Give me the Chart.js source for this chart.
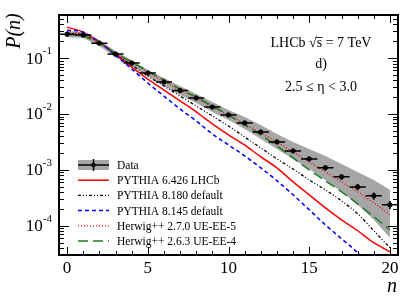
<!DOCTYPE html>
<html>
<head>
<meta charset="utf-8">
<script src="https://cdn.jsdelivr.net/npm/chart.js@4/dist/chart.umd.min.js"></script>
<style>
  html, body { margin: 0; padding: 0; background: #fff; }
  #wrap { width: 419px; height: 304px; }
</style>
</head>
<body>
<div id="wrap"><canvas id="multChart" width="419" height="304"></canvas></div>
<script>
// multiplicity n
const nVals = [0, 1, 2, 3, 4, 5, 6, 7, 8, 9, 10, 11, 12, 13, 14, 15, 16, 17, 18, 19, 20];

// LHCb data P(n)
const dataVals = [0.268, 0.258, 0.185, 0.118, 0.0814, 0.054, 0.0373, 0.0263, 0.0193, 0.0133, 0.0096,
                  0.0069, 0.00477, 0.00316, 0.00218, 0.00157, 0.00109, 0.00075, 0.000496, 0.000343, 0.000237];
// relative stat. error on data
const dataErr = [0.02, 0.02, 0.02, 0.02, 0.03, 0.03, 0.03, 0.04, 0.04, 0.05, 0.05,
                 0.06, 0.06, 0.07, 0.08, 0.09, 0.1, 0.11, 0.13, 0.15, 0.17];
// total uncertainty band
const bandHi = [0.303, 0.291, 0.21, 0.133, 0.092, 0.061, 0.044, 0.0316, 0.0228, 0.0164, 0.0118,
                0.00884, 0.00636, 0.0044, 0.00316, 0.00237, 0.00178, 0.00128, 0.00092, 0.00066, 0.00044];
const bandLo = [0.237, 0.228, 0.164, 0.104, 0.072, 0.0477, 0.0316, 0.0218, 0.0157, 0.0109, 0.0078,
                0.0054, 0.00358, 0.00237, 0.00157, 0.00104, 0.00066, 0.000405, 0.000237, 0.000128, 0.000061];

// generators
const py6426 = [0.358, 0.291, 0.193, 0.118, 0.069, 0.0422, 0.0268, 0.0171, 0.0109, 0.00663, 0.00422,
                0.00279, 0.00171, 0.00109, 0.00061, 0.000358, 0.000209, 0.000128, 0.0000815, 0.0000497, 0.0000343];
const py8180 = [0.279, 0.258, 0.185, 0.118, 0.075, 0.0477, 0.0316, 0.0209, 0.0139, 0.0092, 0.0061,
                0.00388, 0.00247, 0.00157, 0.00104, 0.00066, 0.00044, 0.000279, 0.000164, 0.0000815, 0.0000405];
const py8145 = [0.316, 0.291, 0.193, 0.113, 0.0637, 0.0358, 0.0209, 0.0123, 0.0075, 0.0044, 0.00279,
                0.00178, 0.00109, 0.00064, 0.000358, 0.000193, 0.000104, 0.0000586, 0.000033, 0.0000164, 0.0000089];
const hw270 = [0.303, 0.268, 0.193, 0.123, 0.0849, 0.0562, 0.0388, 0.0268, 0.0193, 0.0133, 0.0096,
               0.00663, 0.00458, 0.00316, 0.00209, 0.00139, 0.00092, 0.00061, 0.000405, 0.000258, 0.000157];
const hw263 = [0.268, 0.247, 0.185, 0.123, 0.0849, 0.0586, 0.0405, 0.0279, 0.0201, 0.0139, 0.0096,
               0.00636, 0.00422, 0.00268, 0.00164, 0.001, 0.00064, 0.000405, 0.000247, 0.000145, 0.000085];

const xTicks = [0, 5, 10, 15, 20];
const yDecades = [-4, -3, -2, -1];

const serif = '"Liberation Serif", "DejaVu Serif", serif';
const pts = arr => nVals.map((n, i) => ({ x: n, y: arr[i] }));

function curve(label, arr, color, dash, width, order) {
    return {
        label: label,
        data: pts(arr),
        borderColor: color,
        borderWidth: width,
        borderDash: dash,
        pointRadius: 0,
        fill: false,
        cubicInterpolationMode: 'monotone',
        order: order
    };
}

// ROOT-like frame, ticks, labels, legend
const rootStyle = {
    id: 'rootStyle',
    afterDatasetsDraw(chart) {
        const c = chart.ctx;
        const xs = chart.scales.x, ys = chart.scales.y;

        // data error bars
        c.save();
        c.strokeStyle = '#000';
        c.lineWidth = 1.5;
        nVals.forEach((n, i) => {
            const py = ys.getPixelForValue(dataVals[i]);
            c.beginPath();
            c.moveTo(xs.getPixelForValue(n - 0.5), py);
            c.lineTo(xs.getPixelForValue(n + 0.5), py);
            c.moveTo(xs.getPixelForValue(n), ys.getPixelForValue(dataVals[i] * (1 + dataErr[i])));
            c.lineTo(xs.getPixelForValue(n), ys.getPixelForValue(dataVals[i] * (1 - dataErr[i])));
            c.stroke();
        });
        c.restore();
    },
    afterDraw(chart) {
        const c = chart.ctx;
        const xs = chart.scales.x, ys = chart.scales.y;
        const a = chart.chartArea;
        c.save();
        c.strokeStyle = '#000';
        c.fillStyle = '#000';

        // frame
        c.lineWidth = 2;
        c.strokeRect(a.left, a.top, a.right - a.left, a.bottom - a.top);

        // x ticks (inside, bottom and top)
        c.lineWidth = 1;
        c.beginPath();
        for (let n = 0; n <= 20; n++) {
            const px = Math.round(xs.getPixelForValue(n)) + 0.5;
            const len = n % 5 === 0 ? 8 : 4;
            c.moveTo(px, a.bottom); c.lineTo(px, a.bottom - len);
            c.moveTo(px, a.top); c.lineTo(px, a.top + len);
        }
        // y ticks (log)
        for (let d = -5; d <= 0; d++) {
            for (let m = 1; m <= 9; m++) {
                const v = m * Math.pow(10, d);
                if (v < ys.min || v > ys.max) continue;
                const py = Math.round(ys.getPixelForValue(v)) + 0.5;
                const len = m === 1 ? 10 : 5;
                c.moveTo(a.left, py); c.lineTo(a.left + len, py);
                c.moveTo(a.right, py); c.lineTo(a.right - len, py);
            }
        }
        c.stroke();

        // x tick labels
        c.font = '17px ' + serif;
        c.textAlign = 'center';
        c.textBaseline = 'middle';
        xTicks.forEach(t => c.fillText(String(t), xs.getPixelForValue(t), 269));

        // y tick labels 10^d
        yDecades.forEach(d => {
            const py = ys.getPixelForValue(Math.pow(10, d));
            const sup = String(d);
            c.font = '11px ' + serif;
            const sw = c.measureText(sup).width;
            c.textAlign = 'right';
            c.fillText(sup, a.left - 7, py - 7);
            c.font = '17px ' + serif;
            c.fillText('10', a.left - 7 - sw, py + 1);
        });

        // axis titles
        c.font = 'italic 20px ' + serif;
        c.textAlign = 'center';
        c.fillText('n', 392, 287);
        c.save();
        c.translate(15, 31);
        c.rotate(-Math.PI / 2);
        c.fillText('P(n)', 0, 0);
        c.restore();

        // annotation (with overline on s)
        c.font = '14px ' + serif;
        const t1 = 'LHCb \u221As = 7 TeV';
        const w1 = c.measureText(t1).width;
        const xStart = 321 - w1 / 2;
        c.textAlign = 'left';
        c.fillText(t1, xStart, 43);
        const wPre = c.measureText('LHCb \u221A').width;
        const wS = c.measureText('s').width;
        c.lineWidth = 0.8;
        c.beginPath();
        c.moveTo(xStart + wPre - 1, 37.5);
        c.lineTo(xStart + wPre + wS + 0.5, 37.5);
        c.stroke();
        c.textAlign = 'center';
        c.fillText('d)', 321, 64);
        c.fillText('2.5 \u2264 \u03b7 < 3.0', 321, 87);

        // legend
        const rows = [
            { label: 'Data', kind: 'data' },
            { ds: 2 }, { ds: 3 }, { ds: 4 }, { ds: 5 }, { ds: 6 }
        ];
        c.font = '11.5px ' + serif;
        c.textAlign = 'left';
        rows.forEach((r, i) => {
            const y = 165 + i * 15.2;
            const x0 = 78, x1 = 109;
            if (r.kind === 'data') {
                c.fillStyle = '#a6a6a6';
                c.fillRect(x0, y - 5, x1 - x0, 10);
                c.fillStyle = '#000';
                c.strokeStyle = '#000';
                c.lineWidth = 1.5;
                c.setLineDash([]);
                c.beginPath();
                c.moveTo(x0, y); c.lineTo(x1, y);
                c.moveTo((x0 + x1) / 2, y - 6); c.lineTo((x0 + x1) / 2, y + 6);
                c.stroke();
                c.beginPath();
                c.arc((x0 + x1) / 2, y, 2.2, 0, Math.PI * 2);
                c.fill();
                c.fillText(r.label, 117, y + 1);
            } else {
                const ds = chart.data.datasets[r.ds];
                c.strokeStyle = ds.borderColor;
                c.lineWidth = ds.borderWidth;
                c.setLineDash(ds.borderDash || []);
                c.beginPath();
                c.moveTo(x0, y); c.lineTo(x1, y);
                c.stroke();
                c.setLineDash([]);
                c.fillStyle = '#000';
                c.fillText(ds.label, 117, y + 1);
            }
        });
        c.restore();
    }
};

const ctx = document.getElementById('multChart').getContext('2d');
const chart = new Chart(ctx, {
    type: 'line',
    data: {
        datasets: [
            {
                label: 'band hi',
                data: pts(bandHi),
                borderWidth: 0,
                pointRadius: 0,
                backgroundColor: '#a6a6a6',
                fill: '+1',
                order: 20
            },
            {
                label: 'band lo',
                data: pts(bandLo),
                borderWidth: 0,
                pointRadius: 0,
                fill: false,
                order: 21
            },
            curve('PYTHIA 6.426 LHCb', py6426, '#ff0000', [], 1.5, 5),
            curve('PYTHIA 8.180 default', py8180, '#000000', [3, 2, 1, 2, 1, 2], 1.3, 4),
            curve('PYTHIA 8.145 default', py8145, '#0000ff', [4, 3], 1.5, 3),
            curve('Herwig++ 2.7.0 UE-EE-5', hw270, '#ff0000', [1, 2], 1.3, 2),
            curve('Herwig++ 2.6.3 UE-EE-4', hw263, '#1e7d1e', [10, 5], 1.5, 1),
            {
                label: 'Data',
                data: pts(dataVals),
                showLine: false,
                pointRadius: 2.2,
                pointBackgroundColor: '#000',
                pointBorderColor: '#000',
                order: 0
            }
        ]
    },
    options: {
        responsive: false,
        animation: false,
        events: [],
        layout: { padding: { left: 59, right: 21, top: 15, bottom: 49 } },
        plugins: { legend: { display: false }, tooltip: { enabled: false } },
        scales: {
            x: { type: 'linear', min: -0.5, max: 20.5, display: false },
            y: { type: 'logarithmic', min: 3.0e-5, max: 0.59, display: false }
        }
    },
    plugins: [rootStyle]
});
</script>
</body>
</html>
